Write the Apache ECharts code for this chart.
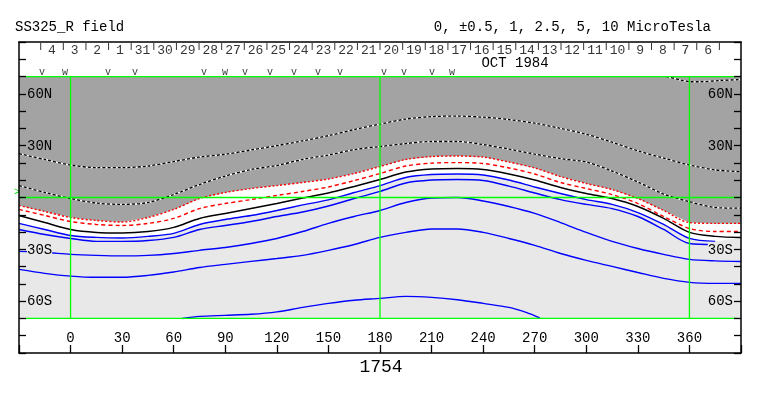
<!DOCTYPE html>
<html><head><meta charset="utf-8">
<script src="https://cdn.jsdelivr.net/npm/echarts@6/dist/echarts.min.js"></script>
<style>html,body{margin:0;padding:0;background:#fff}#c{width:763px;height:396px}</style>
</head><body><div id="c"></div>
<script>
// ---- data (longitude in degrees, latitude in degrees) ----
const lons    = [-30,-15,0,15,30,45,60,75,90,105,120,135,150,165,180,195,210,225,240,255,270,285,300,315,330,345,360,375,390];
const neutral = [-10.4,-14.5,-18.5,-20.2,-20.5,-19.7,-17.3,-12.1,-9.2,-6.4,-3.5,-0.3,2.6,6.4,10.4,14.7,16.5,16.8,16.2,13.6,10.1,5.8,2.3,-0.6,-5.2,-12.1,-20.2,-22.5,-23.1];
const pos05   = [-6.9,-10.4,-13.9,-15.6,-16.2,-15.0,-12.1,-6.4,-3.5,-1.2,1.2,3.5,6.1,9.8,13.9,18.2,19.9,20.2,19.7,17.1,13.6,8.7,5.2,1.7,-3.5,-11.0,-17.9,-19.7,-19.7];
const pos1    = [-4.6,-8.1,-11.6,-13.3,-14.2,-11.6,-6.9,-0.6,2.9,5.2,6.9,8.7,10.7,13.9,17.9,22.0,23.7,24.0,23.4,20.5,17.1,12.1,8.1,4.6,-0.6,-7.5,-14.5,-15.0,-15.0];
const pos25   = [6.9,2.9,-0.6,-3.2,-4.0,-2.9,1.7,7.5,12.4,16.2,18.5,22.0,24.6,27.7,29.5,31.2,32.4,32.4,30.6,28.0,25.1,22.5,20.5,15.3,9.0,2.0,-2.4,-5.8,-6.2];
const pos5    = [25.4,22.0,18.8,17.3,17.3,18.2,20.8,23.4,25.0,27.5,30.0,32.8,35.8,39.3,42.5,45.4,46.8,47.1,46.5,45.1,43.0,40.0,36.6,32.0,27.0,22.8,18.8,16.0,14.9];
const pos10Lon = [346.5,355,360,366,378,390];
const pos10Lat = [70,68.0,67.0,67.0,67.7,68.3];
const neg05   = [-15.0,-18.5,-22.0,-23.1,-23.4,-22.5,-20.8,-15.6,-12.7,-10.4,-7.5,-4.3,-1.4,2.9,6.9,11.6,13.3,13.6,13.0,10.1,6.1,2.3,-1.2,-4.0,-8.7,-15.6,-23.7,-25.4,null];
const neg1    = [-18.5,-21.4,-23.7,-25.4,-25.4,-24.9,-23.1,-18.5,-16.2,-13.9,-11.0,-8.4,-4.9,-0.6,3.5,8.4,10.1,10.4,9.8,6.6,2.6,-1.2,-4.0,-6.4,-11.0,-18.5,-26.6,-27.2,null];
const neg25   = [-31.2,-31.8,-32.9,-33.5,-33.8,-33.5,-32.4,-30.6,-28.9,-26.6,-23.7,-19.7,-15.0,-11.0,-7.5,-2.9,-0.3,0,-2.0,-5.2,-9.2,-14.5,-20.2,-25.4,-29.5,-32.9,-35.8,-36.7,-37.0];
const neg5    = [-41.6,-43.9,-45.5,-46.2,-46.2,-45.1,-43.1,-40.5,-38.7,-37.0,-35.3,-33.5,-30.6,-27.2,-23.1,-20.2,-18.2,-18.2,-20.2,-23.7,-27.7,-32.4,-36.4,-39.9,-43.4,-46.8,-49.1,-49.7,-49.7];
const neg10Lon = [65,75,90,105,120,135,150,165,180,195,210,225,240,255,265,273];
const neg10Lat = [-70,-68.8,-68.2,-67.6,-66.2,-63.6,-61.3,-59.5,-58.4,-57.2,-57.8,-59.2,-61.3,-63.6,-66.5,-69.7];

const dateLabels = ['4','3','2','1','31','30','29','28','27','26','25','24','23','22','21','20','19','18','17','16','15','14','13','12','11','10','9','8','7','6'];
const firstDateLon = -10.8, dayStep = 13.16;
const markLons  = [-16.6,-3.3,21.8,37.5,77.6,89.8,101.5,116,130,144,156.7,182.3,194,210.2,221.9];
const markKinds = ['v','w','v','v','v','w','v','v','v','v','v','v','v','v','w'];
const latLabels = {60:'60N',30:'30N','-30':'30S','-60':'60S'};
const greenLons = [0,180,360];
const mapLat = 70;

// ---- styles ----
const DARK = '#a3a3a3', LIGHT = '#e8e8e8', MONO = '"Liberation Mono", "DejaVu Sans Mono", monospace';
const pair = (xs, ys) => xs.map((x,i) => [x, ys[i] == null ? '-' : ys[i]]);
const line = (data, color, width, type, z) => ({
  type:'line', data, showSymbol:false, symbol:'none', smooth:0.3, silent:true, z: z || 3,
  lineStyle:{color, width, type: type || 'solid'}, connectNulls:false
});

const series = [];
series.push({
  type:'custom', coordinateSystem:'cartesian2d', data:[[0,0]], silent:true, z:1,
  renderItem:(params, api) => {
    const P = (x,y) => api.coord([x,y]);
    const rect = [P(-30,-mapLat),P(390,-mapLat),P(390,mapLat),P(-30,mapLat)];
    const top = [P(-30,mapLat)];
    lons.forEach((x,i)=>top.push(P(x,pos1[i])));
    top.push(P(390,mapLat));
    const white = [];
    lons.forEach((x,i)=>white.push(P(x,pos1[i])));
    for (let i=lons.length-1;i>=0;i--) white.push(P(lons[i], neg05[i]!=null?neg05[i]:neutral[i]));
    return {type:'group', children:[
      {type:'polygon', shape:{points:rect}, style:{fill:LIGHT}},
      {type:'polygon', shape:{points:white}, style:{fill:'#ffffff'}},
      {type:'polygon', shape:{points:top}, style:{fill:DARK}}
    ]};
  }
});
// positive contours (black/white dotted)
[pos25, pos5].forEach(arr => {
  series.push(line(pair(lons,arr),'#ffffff',1.3));
  series.push(line(pair(lons,arr),'#000000',1.3,[3,2]));
});
series.push(line(pair(pos10Lon,pos10Lat),'#ffffff',1.3));
series.push(line(pair(pos10Lon,pos10Lat),'#000000',1.3,[3,2]));
series.push(line(pair(lons,pos1),'#ff0000',1.4,[2,2]));
series.push(line(pair(lons,pos05),'#ff0000',1.4,[4,3]));
series.push(line(pair(lons,neutral),'#000000',1.5));
[neg05, neg1, neg25, neg5].forEach(arr => series.push(line(pair(lons,arr),'#0000ff',1.4)));
series.push(line(pair(neg10Lon,neg10Lat),'#0000ff',1.4));
// green reference lines
const green = d => ({type:'line', data:d, showSymbol:false, symbol:'none', silent:true, z:4, lineStyle:{color:'#00ff00', width:1.3}});
greenLons.forEach(g => series.push(green([[g,-mapLat],[g,mapLat]])));
series.push(green([[-30,0],[390,0]]));
series.push(green([[-26,mapLat],[388,mapLat]]));
series.push(green([[-26,-mapLat],[388,-mapLat]]));
// date row
series.push({
  type:'scatter', silent:true, z:5, symbol:'rect', symbolSize:[1,7], itemStyle:{color:'#000'},
  data: dateLabels.concat(['']).map((d,i)=>[firstDateLon - dayStep/2 + i*dayStep, 87.4])
});
series.push({
  type:'scatter', silent:true, z:5, symbolSize:1, itemStyle:{color:'rgba(0,0,0,0)'},
  data: dateLabels.map((d,i)=>({value:[firstDateLon + i*dayStep, 84.8], name:d})),
  label:{show:true, position:'inside', formatter:p=>p.name, color:'#000', fontFamily:MONO, fontSize:13}
});
series.push({
  type:'scatter', silent:true, z:5, symbolSize:1, itemStyle:{color:'rgba(0,0,0,0)'},
  data: markKinds.map((k,i)=>({value:[markLons[i], 72.3], name:k})),
  label:{show:true, position:'inside', formatter:p=>p.name, color:'#000', fontFamily:MONO, fontSize:10}
});

const yLab = {
  show:true, inside:true, margin:8, fontFamily:MONO, fontSize:14, color:'#000',
  formatter: v => { const t = latLabels[v]; if (!t) return ''; return (v>0?'{n|':'{s|') + t + '}'; },
  rich:{
    n:{backgroundColor:DARK, fontFamily:MONO, fontSize:14, color:'#000', padding:[1,0,0,0]},
    s:{backgroundColor:LIGHT, fontFamily:MONO, fontSize:14, color:'#000', padding:[1,0,0,0]}
  }
};
const yBase = (pos) => ({
  type:'value', position:pos, min:-90, max:90, interval:10, z:6,
  axisLine:{show:true, onZero:false, lineStyle:{color:'#000', width:1.5}},
  axisTick:{show:true, inside:true, length:7, lineStyle:{color:'#000', width:1.3}},
  axisLabel:yLab, splitLine:{show:false}
});

const option = {
  animation:false,
  backgroundColor:'#ffffff',
  grid:{left:19, right:22, top:42, height:311, containLabel:false},
  xAxis:[
    {type:'value', position:'bottom', min:-30, max:390, interval:30, z:6,
     axisLine:{show:true, onZero:false, lineStyle:{color:'#000', width:1.5}},
     axisTick:{show:true, inside:true, length:8, lineStyle:{color:'#000', width:1.3}},
     axisLabel:{show:true, inside:true, margin:8, fontFamily:MONO, fontSize:14, color:'#000',
       formatter: v => (v<0 || v>360) ? '' : String(v)},
     splitLine:{show:false}},
    {type:'value', position:'top', min:-30, max:390, interval:30, z:6,
     axisLine:{show:true, onZero:false, lineStyle:{color:'#000', width:1.5}},
     axisTick:{show:false}, axisLabel:{show:false}, splitLine:{show:false}}
  ],
  yAxis:[yBase('left'), yBase('right')],
  graphic:[
    {type:'text', x:15, y:27, style:{text:'SS325_R field', font:'14px '+MONO, fill:'#000', verticalAlign:'middle'}},
    {type:'text', x:711, y:27, style:{text:'0, \u00b10.5, 1, 2.5, 5, 10 MicroTesla', font:'14px '+MONO, fill:'#000', align:'right', verticalAlign:'middle'}},
    {type:'text', x:515, y:63, z:10, style:{text:'OCT 1984', font:'14px '+MONO, fill:'#000', align:'center', verticalAlign:'middle'}},
    {type:'text', x:381, y:367, style:{text:'1754', font:'18px '+MONO, fill:'#000', align:'center', verticalAlign:'middle'}},
    {type:'text', x:17, y:192, style:{text:'>', font:'10px '+MONO, fill:'#00dd00', align:'center', verticalAlign:'middle'}}
  ],
  series
};
const chart = echarts.init(document.getElementById('c'));
chart.setOption(option);
</script>
</body></html>
